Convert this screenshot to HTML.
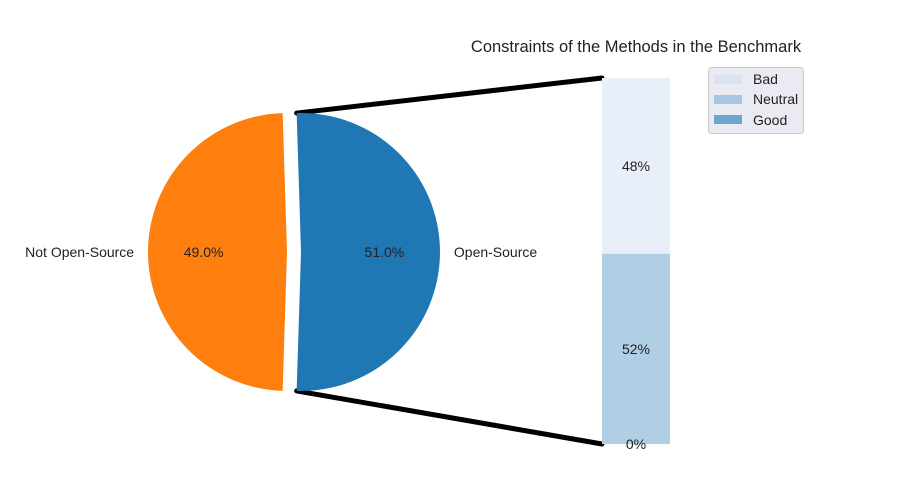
<!DOCTYPE html>
<html><head><meta charset="utf-8"><style>
html,body{margin:0;padding:0;background:#fff;}
svg{display:block;font-family:"Liberation Sans",sans-serif;}
</style></head><body>
<svg id="chart" width="900" height="500" viewBox="0 0 900 500">
<text x="636" y="52" font-size="16.5" text-anchor="middle" fill="#222">Constraints of the Methods in the Benchmark</text>
<g id="lines"></g>
<g id="pie"></g>
<g id="bars"></g>
<g>
<rect x="708.5" y="67.5" width="95" height="66" rx="3" fill="#eaeaf2" stroke="#ccc"/>
<rect x="714" y="75" width="28" height="9" fill="#dae3f0"/>
<text x="753" y="84" font-size="14" fill="#222">Bad</text>
<rect x="714" y="95" width="28" height="9" fill="#a7c6e0"/>
<text x="753" y="104" font-size="14" fill="#222">Neutral</text>
<rect x="714" y="115" width="28" height="9" fill="#6fa5d0"/>
<text x="753" y="125" font-size="14" fill="#222">Good</text>
</g>
</svg>
<script>
const pieLabels = ["Open-Source", "Not Open-Source"];
const pieValues = [51.0, 49.0];
const barCategories = ["Good", "Neutral", "Bad"];
const barValues = [0, 52, 48];

const NS = "http://www.w3.org/2000/svg";
function mk(tag, attrs, parent){ const e=document.createElementNS(NS,tag); for(const k in attrs) e.setAttribute(k,attrs[k]); parent.appendChild(e); return e; }
const pieG = document.getElementById('pie');
const cx=287, cy=252, r=139, explode=14;
const total = pieValues.reduce((a,b)=>a+b,0);
const colors=["#1f77b4","#ff7f0e"];
let start = -180*pieValues[0]/total;
const edges=[];
pieValues.forEach((v,i)=>{
  const span = 360*v/total, end = start+span, mid=(start+end)/2*Math.PI/180;
  const ox = i===0 ? explode*Math.cos(mid) : 0, oy = i===0 ? -explode*Math.sin(mid) : 0;
  const pcx=cx+ox, pcy=cy+oy;
  const a0=start*Math.PI/180, a1=end*Math.PI/180;
  const x0=pcx+r*Math.cos(a0), y0=pcy-r*Math.sin(a0), x1=pcx+r*Math.cos(a1), y1=pcy-r*Math.sin(a1);
  if(i===0){ edges.push([x1,y1],[x0,y0]); }
  const p = mk('path',{d:`M${pcx},${pcy} L${x0},${y0} A${r},${r} 0 ${span>180?1:0} 0 ${x1},${y1} Z`, fill:colors[i]}, pieG);
  
  
  const t = mk('text',{x:pcx+0.6*r*Math.cos(mid), y:pcy-0.6*r*Math.sin(mid)+5, 'font-size':14, 'text-anchor':'middle', fill:'#222'}, pieG);
  t.textContent = v.toFixed(1)+'%';
  
  
  const lx = pcx+1.1*r*Math.cos(mid), ly = pcy-1.1*r*Math.sin(mid)+5;
  const l = mk('text',{x:lx, y:ly, 'font-size':14, 'text-anchor': Math.cos(mid)>=0?'start':'end', fill:'#222'}, pieG);
  l.textContent = pieLabels[i];
  
  
  start = end;
});
const barsG=document.getElementById('bars');
const bx=602, bw=68, by0=444, bh=366;
const btot = barValues.reduce((a,b)=>a+b,0);
const bcol=["#6fa5d0","#b0cfe4","#e8eff8"];
let acc=0;
const yS = v => by0 - bh*v/btot;
barValues.forEach((v,i)=>{
  const y1=yS(acc), y2=yS(acc+v);
  const rc = mk('rect',{x:bx,y:y2,width:bw,height:y1-y2,fill:bcol[i]},barsG);
  
  
  acc+=v;
});
acc=0;
barValues.forEach((v,i)=>{
  const y1=yS(acc), y2=yS(acc+v);
  const t = mk('text',{x:bx+bw/2,y:(y1+y2)/2+5,'font-size':14,'text-anchor':'middle',fill:'#222'},barsG);
  t.textContent = Math.round(v)+'%';
  
  
  acc+=v;
});
const linesG=document.getElementById('lines');
const topEdge=[edges[0], [bx, yS(btot)]], botEdge=[edges[1],[bx, yS(0)]];
[topEdge,botEdge].forEach((s,i)=>{
  const ln = mk('line',{x1:s[0][0],y1:s[0][1],x2:s[1][0],y2:s[1][1],stroke:'#000','stroke-width':5,'stroke-linecap':'round'},linesG);
  
  
});
</script>
</body></html>
